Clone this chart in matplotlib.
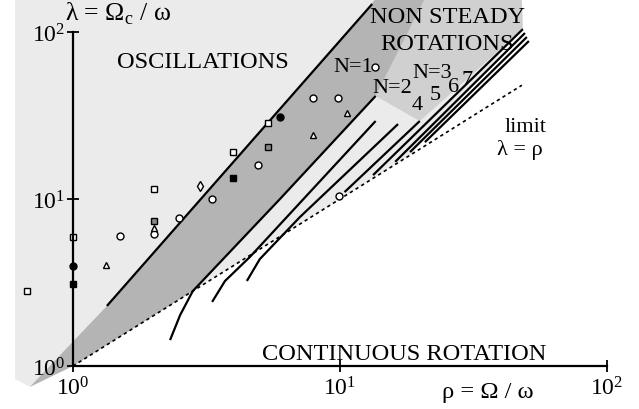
import numpy as np
import matplotlib
matplotlib.use("Agg")
import matplotlib.pyplot as plt
from matplotlib.ticker import FixedLocator, FuncFormatter, NullLocator

plt.rcParams["font.family"] = ["Liberation Serif", "DejaVu Serif"]
plt.rcParams["mathtext.fontset"] = "custom"
plt.rcParams["mathtext.rm"] = "Liberation Serif"

# ---- data (rho = Omega/omega, lambda = Omega_c/omega) ----
# oscillation boundary (upper edge of the N=1 band)
osc_rho = [1.34, 13.2]
osc_lam = [2.29, 147.0]

# rotation branches N=1..3 (curved start near the bottom)
n1_rho = [2.31, 2.52, 2.81, 5.96, 13.6]
n1_lam = [1.43, 2.02, 2.81, 10.0, 41.4]
n2_rho = [3.32, 3.71, 4.60, 13.6]
n2_lam = [2.42, 3.23, 4.50, 29.3]
n3_rho = [4.48, 5.01, 7.08, 16.5]
n3_lam = [3.23, 4.37, 7.80, 28.1]

# branches N=4..8 (tight bundle)
bundle_rho = [[10.4, 19.9], [13.3, 48.4], [16.1, 49.3], [18.3, 50.1], [20.8, 51.0]]
bundle_lam = [[11.0, 29.3], [13.9, 104.0], [16.7, 98.6], [19.1, 93.3], [21.9, 88.3]]

# limit lambda = rho
limit_rho = [1.0, 48.0]

# shaded zones
light_rho = [0.607, 48.0, 48.4, 18.3, 1.0, 0.69, 0.607]
light_lam = [158.0, 158.0, 104.0, 18.3, 1.0, 0.75, 0.836]
mid_rho = [20.8, 48.0, 48.4, 19.9, 13.6]
mid_lam = [158.0, 158.0, 104.0, 29.3, 41.4]
band_rho = [0.69, 1.34, 13.6, 20.8, 13.6, 5.96, 2.81, 1.0]
band_lam = [0.75, 2.29, 158.0, 158.0, 41.4, 10.0, 2.81, 1.0]

# experimental points
sq_open = ([0.673, 1.0, 2.01, 3.97, 5.37], [2.81, 5.92, 11.5, 19.1, 28.5])
sq_fill = ([1.0, 3.97], [3.10, 13.4])
sq_dot = ([2.01, 5.37], [7.38, 20.5])
ci_open = ([1.50, 2.01, 2.49, 3.32, 4.93, 7.92, 9.83, 13.5, 9.91],
           [6.0, 6.17, 7.7, 10.0, 16.0, 40.3, 40.3, 61.7, 10.4])
ci_fill = ([1.0, 5.96], [3.97, 31.0])
diamonds = ([2.99], [11.97])
triangles = ([1.33, 2.01, 7.92, 10.6], [4.02, 6.7, 24.2, 32.7])

fig = plt.figure(figsize=(6.39, 4.10), dpi=100)
ax = fig.add_axes([0, 0, 1, 1])
ax.set_xscale("log")
ax.set_yscale("log")
ax.set_xlim(0.533, 131.8)
ax.set_ylim(0.553, 157.6)
ax.patch.set_alpha(0)

ax.fill(light_rho, light_lam, color="#ebebeb", lw=0, zorder=0)
ax.fill(mid_rho, mid_lam, color="#d0d0d0", lw=0, zorder=1)
ax.fill(band_rho, band_lam, color="#b4b4b4", lw=0, zorder=1)

line_kw = dict(color="black", lw=1.6, solid_capstyle="butt", zorder=3)
ax.plot(osc_rho, osc_lam, **line_kw)
ax.plot(n1_rho, n1_lam, **line_kw)
ax.plot(n2_rho, n2_lam, **line_kw)
ax.plot(n3_rho, n3_lam, **line_kw)
for r, l in zip(bundle_rho, bundle_lam):
    ax.plot(r, l, **line_kw)
ax.plot(limit_rho, limit_rho, color="black", lw=1.2, ls=(0, (2, 2)), zorder=3)

mk = dict(ls="none", ms=5, mew=1.0, mec="black", zorder=4)
ax.plot(*sq_open, marker="s", mfc="white", **mk)
ax.plot(*sq_fill, marker="s", mfc="black", **mk)
ax.plot(*sq_dot, marker="s", mfc="#888888", **mk)
ax.plot(*ci_open, marker="o", mfc="white", **mk)
ax.plot(*ci_fill, marker="o", mfc="black", **mk)
ax.plot(*diamonds, marker="d", mfc="white", **mk)
ax.plot(*triangles, marker="^", mfc="white", **mk)

# axes drawn only between 1 and 100
for side in ["top", "right"]:
    ax.spines[side].set_visible(False)
for side in ["left", "bottom"]:
    ax.spines[side].set_position(("data", 1))
    ax.spines[side].set_bounds(1, 100)
    ax.spines[side].set_linewidth(1.6)
    ax.spines[side].set_zorder(5)

fmt = FuncFormatter(lambda v, p: r"$\mathregular{10^{%d}}$" % round(np.log10(v)))
for axis in [ax.xaxis, ax.yaxis]:
    axis.set_major_locator(FixedLocator([1, 10, 100]))
    axis.set_minor_locator(NullLocator())
    axis.set_major_formatter(fmt)
ax.tick_params(direction="inout", length=9, width=1.3, labelsize=17)
ax.tick_params(axis="x", pad=3)
ax.tick_params(axis="y", pad=1)

txt = dict(fontsize=17.6, ha="left", va="baseline")
ax.text(1.46, 62.0, "OSCILLATIONS", **txt)
ax.text(0.933, 118, r"λ = Ω$_\mathregular{c}$ / ω", fontsize=18.5, ha="left", va="baseline")
ax.text(5.10, 1.10, "CONTINUOUS ROTATION", **txt)
ax.text(24.1, 0.652, "ρ = Ω / ω", **txt)
ax.text(12.95, 114.8, "NON STEADY", **txt)
ax.text(14.1, 79.1, "ROTATIONS", **txt)
small = dict(fontsize=16, ha="left", va="baseline")
ax.text(41.5, 25.5, "limit", **small)
ax.text(38.7, 18.6, "λ = ρ", **small)
ax.text(9.41, 58.4, "N=1", **small)
ax.text(13.2, 43.7, "N=2", **small)
ax.text(18.6, 53.8, "N=3", **small)
for lab, r, l in zip(["4", "5", "6", "7"], [18.6, 21.7, 25.4, 28.6], [34.6, 39.7, 44.3, 48.8]):
    ax.text(r, l, lab, **small)

fig.savefig("out.png", dpi=100)
